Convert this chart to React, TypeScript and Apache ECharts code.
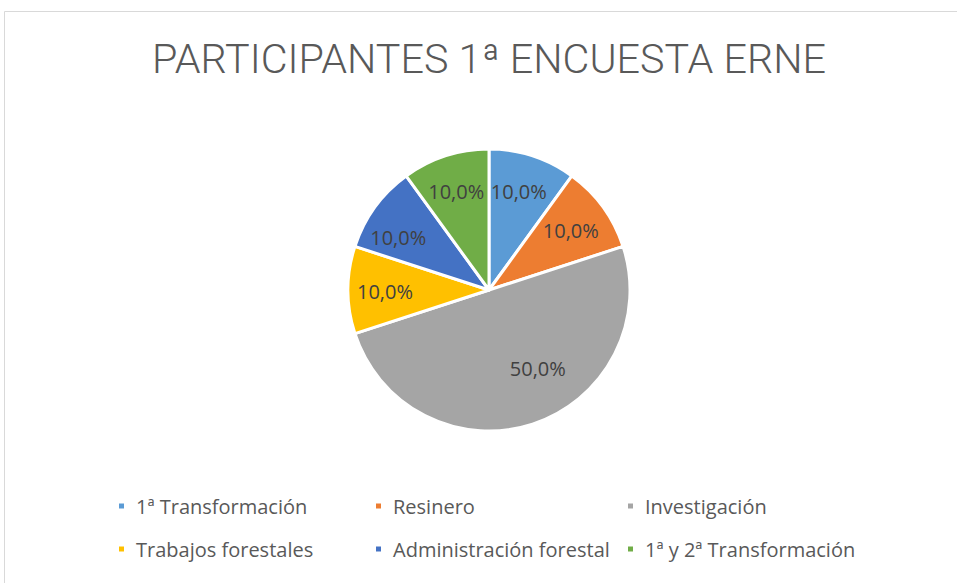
import React, { useEffect, useRef } from "react";
import * as echarts from "echarts";

const categories = [
  "1ª Transformación",
  "Resinero",
  "Investigación",
  "Trabajos forestales",
  "Administración forestal",
  "1ª y 2ª Transformación",
];
const values = [10, 10, 50, 10, 10, 10];
const colors = ["#5B9BD5", "#ED7D31", "#A5A5A5", "#FFC000", "#4472C4", "#70AD47"];
const titleText = "PARTICIPANTES 1ª ENCUESTA ERNE";

const legendColumns = [
  [categories[0], categories[3]],
  [categories[1], categories[4]],
  [categories[2], categories[5]],
];

export default function App() {
  const ref = useRef<HTMLDivElement>(null);
  useEffect(() => {
    document.body.style.margin = "0";
    if (!ref.current) return;
    const chart = echarts.init(ref.current, undefined, { renderer: "svg" });
    const total = values.reduce((a, b) => a + b, 0);
    const data = categories.map((name, i) => ({
      name,
      value: values[i],
      itemStyle: { color: colors[i] },
    }));
    const labelFont = "Open Sans";
    const legendLefts = [117, 374, 626];
    const labelOffsets: Record<string, number[]> = {
      "1ª Transformación": [-3, 2],
      "Investigación": [16, -22],
      "Resinero": [-4, 3],
      "Administración forestal": [-5, 10],
      "Trabajos forestales": [2, 1],
      "1ª y 2ª Transformación": [0, 2],
    };
    chart.setOption({
      animation: false,
      backgroundColor: "#ffffff",
      title: {
        text: titleText,
        left: 147,
        top: 33,
        textStyle: {
          fontFamily: "Roboto",
          fontWeight: 300,
          fontSize: 41.3,
          color: "#595959",
        },
      },
      graphic: [
        {
          type: "rect",
          shape: { x: 4.5, y: 11.5, width: 1000, height: 1000 },
          style: { fill: "none", stroke: "#d9d9d9", lineWidth: 1 },
          silent: true,
        },
      ],
      legend: legendColumns.map((col, i) => ({
        data: col,
        orient: "vertical",
        left: legendLefts[i],
        top: 496,
        padding: 0,
        itemGap: 23,
        itemWidth: 7,
        itemHeight: 7,
        icon: "rect",
        selectedMode: false,
        textStyle: {
          fontFamily: labelFont,
          fontSize: 20,
          color: "#595959",
          padding: [0, 0, 0, 6],
        },
      })),
      series: [
        {
          type: "pie",
          center: [489, 290],
          radius: [0, 141],
          startAngle: 90,
          clockwise: true,
          data,
          label: { show: false },
          labelLine: { show: false },
          itemStyle: { borderColor: "#ffffff", borderWidth: 3 },
          emphasis: { disabled: true },
        },
        {
          type: "pie",
          center: [489, 290],
          radius: [92, 114],
          startAngle: 90,
          clockwise: true,
          silent: true,
          data: data.map((d) => ({
            ...d,
            itemStyle: { color: "transparent" },
            label: labelOffsets[d.name] ? { offset: labelOffsets[d.name] } : undefined,
          })),
          label: {
            show: true,
            position: "inside",
            fontFamily: labelFont,
            fontSize: 20,
            color: "#404040",
            formatter: (p: any) => ((p.value / total) * 100).toFixed(1).replace(".", ",") + "%",
          },
          labelLine: { show: false },
          emphasis: { disabled: true },
        },
      ],
    });
    return () => chart.dispose();
  }, []);
  return <div ref={ref} style={{ width: 957, height: 583 }} />;
}
